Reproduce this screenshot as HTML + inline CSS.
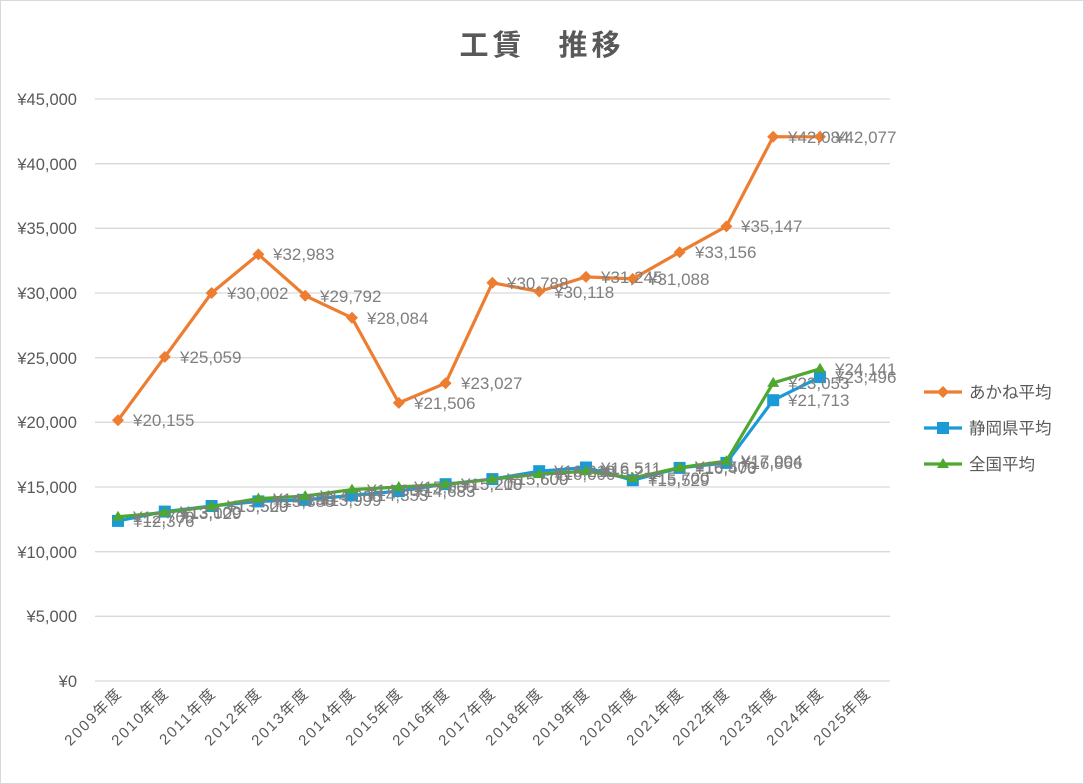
<!DOCTYPE html>
<html><head><meta charset="utf-8"><style>
html,body{margin:0;padding:0;background:#fff}
svg{display:block;font-family:"Liberation Sans","Noto Sans CJK JP",sans-serif}
</style></head><body>
<svg width="1084" height="784" viewBox="0 0 1084 784">
<rect x="0.5" y="0.5" width="1083" height="783" fill="#fff" stroke="#d9d9d9"/>
<text x="542" y="55" text-anchor="middle" font-size="29" font-weight="bold" fill="#595959" letter-spacing="4">工賃　推移</text>
<g stroke="#d9d9d9" stroke-width="1.3">
<line x1="95" x2="890" y1="99" y2="99"/><line x1="95" x2="890" y1="163.7" y2="163.7"/><line x1="95" x2="890" y1="228.3" y2="228.3"/><line x1="95" x2="890" y1="293" y2="293"/><line x1="95" x2="890" y1="357.7" y2="357.7"/><line x1="95" x2="890" y1="422.3" y2="422.3"/><line x1="95" x2="890" y1="487" y2="487"/><line x1="95" x2="890" y1="551.7" y2="551.7"/><line x1="95" x2="890" y1="616.3" y2="616.3"/><line x1="95" x2="890" y1="681" y2="681"/>
</g>
<g font-size="16.5" fill="#595959" text-anchor="end">
<text x="77" y="105">¥45,000</text><text x="77" y="170">¥40,000</text><text x="77" y="234">¥35,000</text><text x="77" y="299">¥30,000</text><text x="77" y="364">¥25,000</text><text x="77" y="428">¥20,000</text><text x="77" y="493">¥15,000</text><text x="77" y="558">¥10,000</text><text x="77" y="622">¥5,000</text><text x="77" y="687">¥0</text>
</g>
<g font-size="15" fill="#595959" text-anchor="end" letter-spacing="1.8">
<text transform="translate(123,694) rotate(-45)">2009年度</text>
<text transform="translate(170,694) rotate(-45)">2010年度</text>
<text transform="translate(217,694) rotate(-45)">2011年度</text>
<text transform="translate(263,694) rotate(-45)">2012年度</text>
<text transform="translate(310,694) rotate(-45)">2013年度</text>
<text transform="translate(357,694) rotate(-45)">2014年度</text>
<text transform="translate(404,694) rotate(-45)">2015年度</text>
<text transform="translate(451,694) rotate(-45)">2016年度</text>
<text transform="translate(497,694) rotate(-45)">2017年度</text>
<text transform="translate(544,694) rotate(-45)">2018年度</text>
<text transform="translate(591,694) rotate(-45)">2019年度</text>
<text transform="translate(638,694) rotate(-45)">2020年度</text>
<text transform="translate(685,694) rotate(-45)">2021年度</text>
<text transform="translate(731,694) rotate(-45)">2022年度</text>
<text transform="translate(778,694) rotate(-45)">2023年度</text>
<text transform="translate(825,694) rotate(-45)">2024年度</text>
<text transform="translate(872,694) rotate(-45)">2025年度</text>
</g>
<polyline fill="none" stroke="#ed7d31" stroke-width="3.2" stroke-linejoin="round" points="118,420.3 164.8,356.9 211.6,293 258.4,254.4 305.2,295.7 352,317.8 398.8,402.9 445.6,383.2 492.4,282.8 539.2,291.5 586,276.9 632.8,278.9 679.6,252.2 726.4,226.4 773.2,136.7 820,136.8"/>
<g fill="#ed7d31">
<path d="M118,414.3l6,6l-6,6l-6,-6z"/><path d="M164.8,350.9l6,6l-6,6l-6,-6z"/><path d="M211.6,287l6,6l-6,6l-6,-6z"/><path d="M258.4,248.4l6,6l-6,6l-6,-6z"/><path d="M305.2,289.7l6,6l-6,6l-6,-6z"/><path d="M352,311.8l6,6l-6,6l-6,-6z"/><path d="M398.8,396.9l6,6l-6,6l-6,-6z"/><path d="M445.6,377.2l6,6l-6,6l-6,-6z"/><path d="M492.4,276.8l6,6l-6,6l-6,-6z"/><path d="M539.2,285.5l6,6l-6,6l-6,-6z"/><path d="M586,270.9l6,6l-6,6l-6,-6z"/><path d="M632.8,272.9l6,6l-6,6l-6,-6z"/><path d="M679.6,246.2l6,6l-6,6l-6,-6z"/><path d="M726.4,220.4l6,6l-6,6l-6,-6z"/><path d="M773.2,130.7l6,6l-6,6l-6,-6z"/><path d="M820,130.8l6,6l-6,6l-6,-6z"/>
</g>
<polyline fill="none" stroke="#1a9bd7" stroke-width="3.2" stroke-linejoin="round" points="118,520.9 164.8,511.6 211.6,506 258.4,501.4 305.2,499.9 352,495.4 398.8,491.1 445.6,484.2 492.4,479.1 539.2,471.2 586,467.5 632.8,480.2 679.6,467.9 726.4,462.9 773.2,400.2 820,377.1"/>
<g fill="#1a9bd7">
<rect x="112" y="514.9" width="12" height="12"/><rect x="158.8" y="505.6" width="12" height="12"/><rect x="205.6" y="500" width="12" height="12"/><rect x="252.4" y="495.4" width="12" height="12"/><rect x="299.2" y="493.9" width="12" height="12"/><rect x="346" y="489.4" width="12" height="12"/><rect x="392.8" y="485.1" width="12" height="12"/><rect x="439.6" y="478.2" width="12" height="12"/><rect x="486.4" y="473.1" width="12" height="12"/><rect x="533.2" y="465.2" width="12" height="12"/><rect x="580" y="461.5" width="12" height="12"/><rect x="626.8" y="474.2" width="12" height="12"/><rect x="673.6" y="461.9" width="12" height="12"/><rect x="720.4" y="456.9" width="12" height="12"/><rect x="767.2" y="394.2" width="12" height="12"/><rect x="814" y="371.1" width="12" height="12"/>
</g>
<polyline fill="none" stroke="#4ea72e" stroke-width="3.2" stroke-linejoin="round" points="118,516.8 164.8,512.5 211.6,506.4 258.4,498.6 305.2,496.1 352,489.6 398.8,487 445.6,484.4 492.4,479.2 539.2,474.1 586,471.3 632.8,478 679.6,467.6 726.4,461.1 773.2,382.9 820,368.8"/>
<g fill="#4ea72e">
<path d="M118,510.8l6,10h-12z"/><path d="M164.8,506.5l6,10h-12z"/><path d="M211.6,500.4l6,10h-12z"/><path d="M258.4,492.6l6,10h-12z"/><path d="M305.2,490.1l6,10h-12z"/><path d="M352,483.6l6,10h-12z"/><path d="M398.8,481l6,10h-12z"/><path d="M445.6,478.4l6,10h-12z"/><path d="M492.4,473.2l6,10h-12z"/><path d="M539.2,468.1l6,10h-12z"/><path d="M586,465.3l6,10h-12z"/><path d="M632.8,472l6,10h-12z"/><path d="M679.6,461.6l6,10h-12z"/><path d="M726.4,455.1l6,10h-12z"/><path d="M773.2,376.9l6,10h-12z"/><path d="M820,362.8l6,10h-12z"/>
</g>
<g font-size="17" fill="#7f7f7f">
<text x="133" y="426">¥20,155</text><text x="180" y="363">¥25,059</text><text x="227" y="299">¥30,002</text><text x="273" y="260">¥32,983</text><text x="320" y="302">¥29,792</text><text x="367" y="324">¥28,084</text><text x="414" y="409">¥21,506</text><text x="461" y="389">¥23,027</text><text x="507" y="289">¥30,788</text><text x="554" y="298">¥30,118</text><text x="601" y="283">¥31,245</text><text x="648" y="285">¥31,088</text><text x="695" y="258">¥33,156</text><text x="741" y="232">¥35,147</text><text x="788" y="143">¥42,084</text><text x="835" y="143">¥42,077</text>
<text x="133" y="527">¥12,376</text><text x="180" y="518">¥13,100</text><text x="227" y="512">¥13,529</text><text x="273" y="507">¥13,888</text><text x="320" y="506">¥13,999</text><text x="367" y="501">¥14,353</text><text x="414" y="497">¥14,683</text><text x="461" y="490">¥15,218</text><text x="507" y="485">¥15,609</text><text x="554" y="477">¥16,219</text><text x="601" y="474">¥16,511</text><text x="648" y="486">¥15,529</text><text x="695" y="474">¥16,476</text><text x="741" y="469">¥16,866</text><text x="788" y="406">¥21,713</text><text x="835" y="383">¥23,496</text>
<text x="133" y="523">¥12,700</text><text x="180" y="519">¥13,029</text><text x="227" y="512">¥13,500</text><text x="273" y="505">¥14,100</text><text x="320" y="502">¥14,300</text><text x="367" y="496">¥14,800</text><text x="414" y="493">¥15,000</text><text x="461" y="490">¥15,200</text><text x="507" y="485">¥15,600</text><text x="554" y="480">¥16,000</text><text x="601" y="477">¥16,211</text><text x="648" y="484">¥15,700</text><text x="695" y="473">¥16,500</text><text x="741" y="467">¥17,004</text><text x="788" y="389">¥23,053</text><text x="835" y="375">¥24,141</text>
</g>
<line x1="924" x2="962" y1="392" y2="392" stroke="#ed7d31" stroke-width="3.2"/><path d="M943,386l6,6l-6,6l-6,-6z" fill="#ed7d31"/>
<line x1="924" x2="962" y1="428" y2="428" stroke="#1a9bd7" stroke-width="3.2"/><rect x="937" y="422" width="12" height="12" fill="#1a9bd7"/>
<line x1="924" x2="962" y1="464" y2="464" stroke="#4ea72e" stroke-width="3.2"/><path d="M943,458l6,10h-12z" fill="#4ea72e"/>
<g font-size="16.5" fill="#595959">
<text x="969" y="398">あかね平均</text><text x="969" y="434">静岡県平均</text><text x="969" y="470">全国平均</text>
</g>
</svg>
</body></html>
